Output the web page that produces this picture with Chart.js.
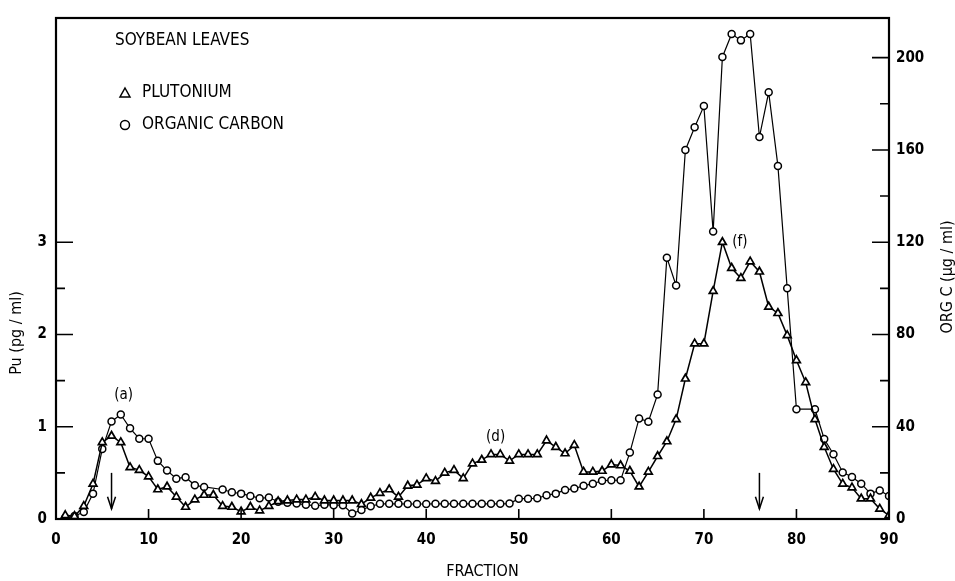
<!DOCTYPE html>
<html>
<head>
<meta charset="utf-8">
<script src="https://cdn.jsdelivr.net/npm/chart.js@4.4.1/dist/chart.umd.min.js"></script>
<style>
  body { margin: 0; background: #fff; }
  canvas { display: block; }
</style>
</head>
<body>
<canvas id="fractionChart" width="955" height="581"></canvas>
<script>
// fraction number of each collected sample
const fractions = [1, 2, 3, 4, 5, 6, 7, 8, 9, 10, 11, 12, 13, 14, 15, 16, 17, 18, 19, 20,
  21, 22, 23, 24, 25, 26, 27, 28, 29, 30, 31, 32, 33, 34, 35, 36, 37, 38, 39, 40,
  41, 42, 43, 44, 45, 46, 47, 48, 49, 50, 51, 52, 53, 54, 55, 56, 57, 58, 59, 60,
  61, 62, 63, 64, 65, 66, 67, 68, 69, 70, 71, 72, 73, 74, 75, 76, 77, 78, 79, 80,
  81, 82, 83, 84, 85, 86, 87, 88, 89, 90];

// Pu (pg/ml), triangles
const plutonium = [0.04, 0.03, 0.14, 0.38, 0.83, 0.90, 0.83, 0.56, 0.53, 0.46,
  0.32, 0.35, 0.24, 0.13, 0.21, 0.26, 0.26, 0.14, 0.13, 0.08,
  0.13, 0.09, 0.14, 0.19, 0.20, 0.21, 0.21, 0.24, 0.20, 0.20,
  0.20, 0.20, 0.16, 0.23, 0.28, 0.32, 0.24, 0.36, 0.37, 0.44,
  0.41, 0.50, 0.53, 0.44, 0.60, 0.64, 0.70, 0.70, 0.63, 0.70,
  0.70, 0.70, 0.85, 0.78, 0.71, 0.80, 0.51, 0.51, 0.52, 0.59,
  0.58, 0.52, 0.35, 0.51, 0.68, 0.84, 1.08, 1.52, 1.90, 1.90,
  2.47, 3.00, 2.72, 2.61, 2.79, 2.68, 2.30, 2.23, 1.99, 1.72,
  1.48, 1.08, 0.78, 0.54, 0.38, 0.34, 0.22, 0.22, 0.11, 0.04];

// ORG C (ug/ml), circles (null = no point plotted)
const organicCarbon = [0.5, 1.3, 3, 11, 30.4, 42.3, 45.3, 39.3, 34.8, 34.8,
  25.2, 21, 17.5, 18.1, 14.6, 13.9, null, 12.8, 11.6, 11,
  10, 9, 9.3, 7.5, 7, 6.7, 6.2, 5.7, 6.2, 6,
  6, 2.4, 3.9, 5.5, 6.6, 6.6, 6.6, 6.5, 6.5, 6.5,
  6.6, 6.6, 6.6, 6.6, 6.6, 6.6, 6.6, 6.6, 6.7, 8.8,
  8.8, 9, 10.3, 11, 12.6, 13.2, 14.4, 15.3, 16.6, 16.8,
  16.8, 28.8, 43.6, 42.2, 54, 113.3, 101.2, 160, 169.8, 179,
  124.6, 200.3, 210.3, 207.5, 210.3, 165.6, 185, 153, 100, 47.6,
  null, 47.6, 34.7, 28.1, 20.2, 18.2, 15.3, 11, 12.4, 10];

// tick marks
const fracTicks = [0, 10, 20, 30, 40, 50, 60, 70, 80, 90];
const puTicks = [0, 0.5, 1, 1.5, 2, 2.5, 3];
const ocTicks = [0, 20, 40, 60, 80, 100, 120, 140, 160, 180, 200];

// peak labels and arrows (fraction, Pu)
const peakLabels = ['(a)', '(d)', '(f)'];
const peakFractions = [7.3, 47.5, 73.9];
const peakHeights = [1.34, 0.89, 3.0];
const arrowFractions = [6, 76];

const FONT = "'Liberation Sans Narrow', 'DejaVu Sans Condensed', 'Arial Narrow', sans-serif";

function toPoints(ys) {
    return fractions.map((f, i) => ({ x: f, y: ys[i] }));
}

const extras = {
    id: 'extras',
    afterDraw(chart) {
        const ctx = chart.ctx;
        const a = chart.chartArea;
        const x = chart.scales.x;
        const yp = chart.scales.yPu;
        const yc = chart.scales.yOC;
        ctx.save();
        ctx.strokeStyle = '#000';
        ctx.fillStyle = '#000';

        // frame
        ctx.lineWidth = 2.2;
        ctx.strokeRect(a.left, a.top, a.right - a.left, a.bottom - a.top);

        // inward ticks
        ctx.lineWidth = 1.6;
        ctx.beginPath();
        fracTicks.forEach(v => {
            const px = x.getPixelForValue(v);
            ctx.moveTo(px, a.bottom);
            ctx.lineTo(px, a.bottom - 10);
        });
        puTicks.forEach(v => {
            const py = yp.getPixelForValue(v);
            ctx.moveTo(a.left, py);
            ctx.lineTo(a.left + (v % 1 === 0 ? 17 : 9), py);
        });
        ocTicks.forEach(v => {
            const py = yc.getPixelForValue(v);
            ctx.moveTo(a.right, py);
            ctx.lineTo(a.right - (v % 40 === 0 ? 17 : 9), py);
        });
        ctx.stroke();

        // arrows
        ctx.lineWidth = 1.5;
        arrowFractions.forEach(f => {
            const px = x.getPixelForValue(f);
            const top = yp.getPixelForValue(0.5);
            const bot = yp.getPixelForValue(0.11);
            ctx.beginPath();
            ctx.moveTo(px, top);
            ctx.lineTo(px, bot);
            ctx.stroke();
            ctx.beginPath();
            ctx.moveTo(px - 4, bot - 12);
            ctx.lineTo(px, bot);
            ctx.lineTo(px + 4, bot - 12);
            ctx.stroke();
        });

        // peak labels
        ctx.font = '15px ' + FONT;
        ctx.textAlign = 'center';
        ctx.textBaseline = 'middle';
        peakLabels.forEach((t, i) => {
            ctx.fillText(t, x.getPixelForValue(peakFractions[i]), yp.getPixelForValue(peakHeights[i]));
        });

        // legend box text
        ctx.textAlign = 'left';
        ctx.font = '17px ' + FONT;
        ctx.fillText('SOYBEAN LEAVES', a.left + 59, a.top + 23);
        ctx.fillText('PLUTONIUM', a.left + 86, a.top + 75);
        ctx.fillText('ORGANIC CARBON', a.left + 86, a.top + 107);

        ctx.lineWidth = 1.5;
        const mx = a.left + 69;
        ctx.beginPath();
        ctx.moveTo(mx, a.top + 70);
        ctx.lineTo(mx + 5, a.top + 79);
        ctx.lineTo(mx - 5, a.top + 79);
        ctx.closePath();
        ctx.stroke();
        ctx.beginPath();
        ctx.arc(mx, a.top + 107, 4.5, 0, Math.PI * 2);
        ctx.stroke();

        // axis titles
        ctx.font = '16px ' + FONT;
        ctx.textAlign = 'center';
        ctx.fillText('FRACTION', (a.left + a.right) / 2 + 10, a.bottom + 53);

        ctx.translate(17, 333);
        ctx.rotate(-Math.PI / 2);
        ctx.fillText('Pu (pg / ml)', 0, 0);
        ctx.setTransform(1, 0, 0, 1, 0, 0);
        ctx.translate(948, 277);
        ctx.rotate(-Math.PI / 2);
        ctx.fillText('ORG C (\u00b5g / ml)', 0, 0);
        ctx.restore();
    }
};

const tickFont = { family: FONT, size: 15, weight: 'bold' };

const ctx = document.getElementById('fractionChart').getContext('2d');

const fractionChart = new Chart(ctx, {
    type: 'line',
    data: {
        datasets: [{
            label: 'PLUTONIUM',
            data: toPoints(plutonium),
            yAxisID: 'yPu',
            borderColor: '#000',
            borderWidth: 1.5,
            pointStyle: 'triangle',
            pointRadius: 4.5,
            pointBackgroundColor: '#fff',
            pointBorderColor: '#000',
            pointBorderWidth: 1.7,
        }, {
            label: 'ORGANIC CARBON',
            data: toPoints(organicCarbon),
            yAxisID: 'yOC',
            spanGaps: true,
            borderColor: '#000',
            borderWidth: 1.2,
            pointStyle: 'circle',
            pointRadius: 3.5,
            pointBackgroundColor: '#fff',
            pointBorderColor: '#000',
            pointBorderWidth: 1.5,
        }]
    },
    options: {
        responsive: false,
        animation: false,
        layout: { padding: { top: 14, left: 0, right: 0, bottom: 0 } },
        plugins: {
            legend: { display: false },
            tooltip: { enabled: false },
        },
        scales: {
            x: {
                type: 'linear',
                min: 0,
                max: 90,
                afterFit: s => { s.height = 62; },
                grid: { display: false, drawTicks: false },
                border: { display: false },
                ticks: { stepSize: 10, color: '#000', font: tickFont, padding: 12, maxRotation: 0 },
            },
            yPu: {
                type: 'linear',
                position: 'left',
                min: 0,
                max: 5.43,
                afterFit: s => { s.width = 56; },
                grid: { display: false, drawTicks: false },
                border: { display: false },
                ticks: {
                    stepSize: 1, color: '#000', font: tickFont, padding: 9,
                    callback: v => (v <= 3 && v % 1 === 0 ? v : null),
                },
            },
            yOC: {
                type: 'linear',
                position: 'right',
                min: 0,
                max: 217.2,
                afterFit: s => { s.width = 66; },
                grid: { display: false, drawTicks: false },
                border: { display: false },
                ticks: {
                    stepSize: 40, color: '#000', font: tickFont, padding: 7,
                    callback: v => (v <= 200 && v % 40 === 0 ? v : null),
                },
            },
        }
    },
    plugins: [extras]
});
</script>
</body>
</html>
